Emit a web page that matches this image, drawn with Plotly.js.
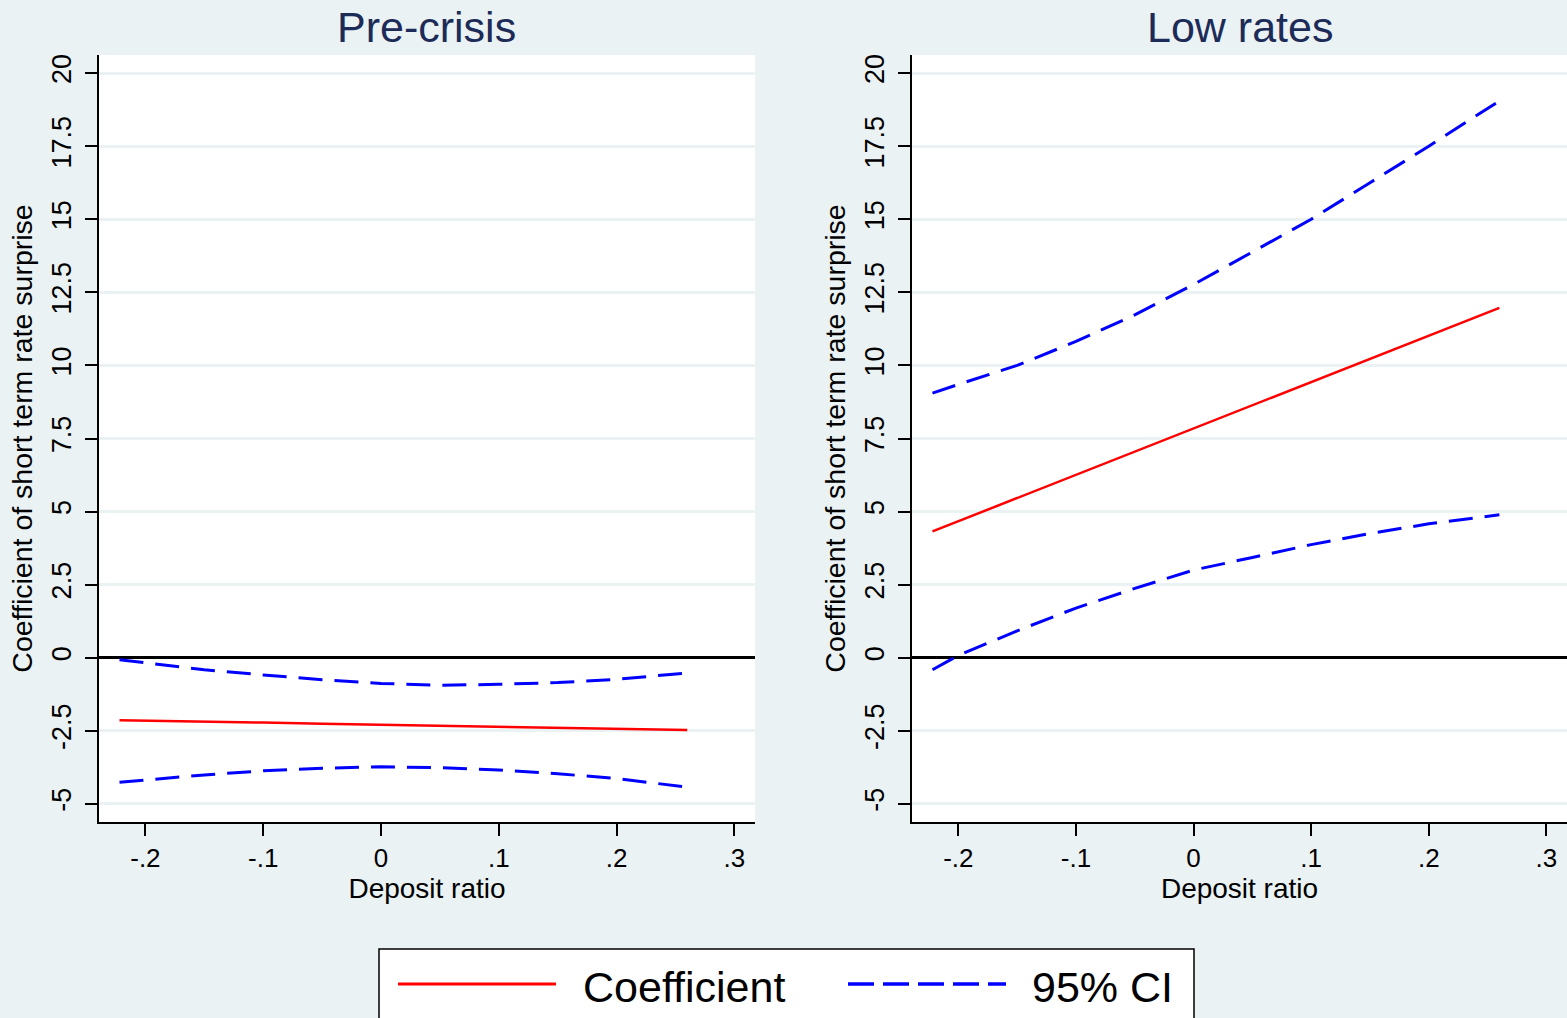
<!DOCTYPE html>
<html>
<head>
<meta charset="utf-8">
<script src="https://cdn.plot.ly/plotly-3.0.1.min.js"></script>
<style>
html, body { margin: 0; padding: 0; background: #EAF2F3; }
#chart { width: 1567px; height: 1018px; }
</style>
</head>
<body>
<div id="chart"></div>
<script>
// ---- data ----
const depositRatio = [-0.222, -0.2, -0.15, -0.1, -0.05, 0, 0.05, 0.1, 0.15, 0.2, 0.26];

const preCoef  = [-2.14, -2.15, -2.19, -2.22, -2.26, -2.29, -2.33, -2.36, -2.39, -2.43, -2.47];
const preUpper = [-0.07, -0.18, -0.41, -0.59, -0.75, -0.88, -0.94, -0.91, -0.85, -0.74, -0.52];
const preLower = [-4.26, -4.18, -4.01, -3.87, -3.78, -3.73, -3.76, -3.84, -3.97, -4.13, -4.43];

const lowCoef  = [4.32, 4.67, 5.46, 6.25, 7.05, 7.84, 8.63, 9.43, 10.22, 11.01, 11.97];
const lowUpper = [9.05, 9.35, 10.0, 10.82, 11.73, 12.77, 13.88, 15.0, 16.25, 17.5, 19.05];
const lowLower = [-0.41, 0.08, 0.92, 1.70, 2.37, 3.0, 3.43, 3.87, 4.25, 4.58, 4.89];

const panelTitles = ["Pre-crisis", "Low rates"];
const seriesNames = ["Coefficient", "95% CI"];
const xTickVals = [-0.2, -0.1, 0, 0.1, 0.2, 0.3];
const xTickText = ["-.2", "-.1", "0", ".1", ".2", ".3"];
const yTickVals = [-5, -2.5, 0, 2.5, 5, 7.5, 10, 12.5, 15, 17.5, 20];
const yTickText = ["-5", "-2.5", "0", "2.5", "5", "7.5", "10", "12.5", "15", "17.5", "20"];
const xTitle = "Deposit ratio";
const yTitle = "Coefficient of short term rate surprise";

// ---- styling ----
const W = 1567, H = 1018;
const FONT = "Liberation Sans, Arial, Helvetica, sans-serif";
const BG = "#EAF2F3";
const RED = "#FF0000", BLUE = "#0000FF";
const DASH = "24px,12px";

function px(x) { return x / W; }
function py(y) { return 1 - y / H; }

const coefLine = { color: RED, width: 2.5 };
const ciLine = { color: BLUE, width: 3, dash: DASH };

const traces = [
  { x: depositRatio, y: preCoef,  xaxis: "x",  yaxis: "y",  mode: "lines", line: coefLine, name: seriesNames[0], showlegend: false },
  { x: depositRatio, y: preUpper, xaxis: "x",  yaxis: "y",  mode: "lines", line: ciLine,   name: seriesNames[1], showlegend: false },
  { x: depositRatio, y: preLower, xaxis: "x",  yaxis: "y",  mode: "lines", line: ciLine,   name: seriesNames[1], showlegend: false },
  { x: depositRatio, y: lowCoef,  xaxis: "x2", yaxis: "y2", mode: "lines", line: coefLine, name: seriesNames[0], showlegend: false },
  { x: depositRatio, y: lowUpper, xaxis: "x2", yaxis: "y2", mode: "lines", line: ciLine,   name: seriesNames[1], showlegend: false },
  { x: depositRatio, y: lowLower, xaxis: "x2", yaxis: "y2", mode: "lines", line: ciLine,   name: seriesNames[1], showlegend: false }
];

const xRange = [-0.2394, 0.3175];
const yRange = [-5.62, 20.62];
const yDomain = [py(822), py(55)];

function xAxis(domain, anchor) {
  return {
    domain: domain, anchor: anchor, range: xRange,
    tickmode: "array", tickvals: xTickVals, ticktext: xTickText,
    showgrid: false, zeroline: false,
    showline: true, linecolor: "#000", linewidth: 2,
    ticks: "outside", ticklen: 12, tickwidth: 2, tickcolor: "#000",
    ticklabelstandoff: 0,
    tickfont: { family: FONT, size: 26, color: "#000" },
    title: { text: xTitle, font: { family: FONT, size: 28, color: "#000" }, standoff: 0 },
    automargin: false, fixedrange: true
  };
}
function yAxis(anchor) {
  return {
    domain: yDomain, anchor: anchor, range: yRange,
    tickmode: "array", tickvals: yTickVals, ticktext: yTickText, tickangle: -90,
    showgrid: true, gridcolor: BG, gridwidth: 3,
    zeroline: true, zerolinecolor: "#000", zerolinewidth: 2.5,
    showline: true, linecolor: "#000", linewidth: 2,
    ticks: "outside", ticklen: 12, tickwidth: 2, tickcolor: "#000",
    ticklabelstandoff: 3,
    tickfont: { family: FONT, size: 27, color: "#000" },
    title: { text: yTitle, font: { family: FONT, size: 28.5, color: "#000" }, standoff: 6 },
    automargin: false, fixedrange: true
  };
}

const legendY = py(984);
const shapes = [
  { type: "rect", xref: "paper", yref: "paper", x0: px(379), x1: px(1194), y0: -0.05, y1: py(949),
    fillcolor: "#FFFFFF", line: { color: "#000", width: 1.5 }, layer: "above" },
  { type: "line", xref: "paper", yref: "paper", x0: px(398), x1: px(556), y0: legendY, y1: legendY,
    line: { color: RED, width: 3 }, layer: "above" },
  { type: "line", xref: "paper", yref: "paper", x0: px(848), x1: px(1006), y0: legendY, y1: legendY,
    line: { color: BLUE, width: 3.5, dash: "26px,9px" }, layer: "above" }
];

const titleFont = { family: FONT, size: 43, color: "#1C2B57" };
const legendFont = { family: FONT, size: 43, color: "#000" };
const annotations = [
  { text: panelTitles[0], xref: "paper", yref: "paper", x: px(427), y: py(27), xanchor: "center", yanchor: "middle",
    showarrow: false, font: titleFont },
  { text: panelTitles[1], xref: "paper", yref: "paper", x: px(1239.5), y: py(27), xanchor: "center", yanchor: "middle",
    showarrow: false, font: titleFont },
  { text: seriesNames[0], xref: "paper", yref: "paper", x: px(581), y: py(987), xanchor: "left", yanchor: "middle",
    showarrow: false, font: legendFont },
  { text: seriesNames[1], xref: "paper", yref: "paper", x: px(1030), y: py(987), xanchor: "left", yanchor: "middle",
    showarrow: false, font: legendFont }
];

const layout = {
  width: W, height: H,
  margin: { l: 0, r: 0, t: 0, b: 0, pad: 0 },
  paper_bgcolor: BG, plot_bgcolor: "#FFFFFF",
  showlegend: false,
  font: { family: FONT, color: "#000" },
  xaxis: xAxis([px(99), px(755)], "y"),
  yaxis: yAxis("x"),
  xaxis2: xAxis([px(912), 1], "y2"),
  yaxis2: yAxis("x2"),
  shapes: shapes,
  annotations: annotations
};

Plotly.newPlot("chart", traces, layout, { displayModeBar: false, staticPlot: true });
</script>
</body>
</html>
